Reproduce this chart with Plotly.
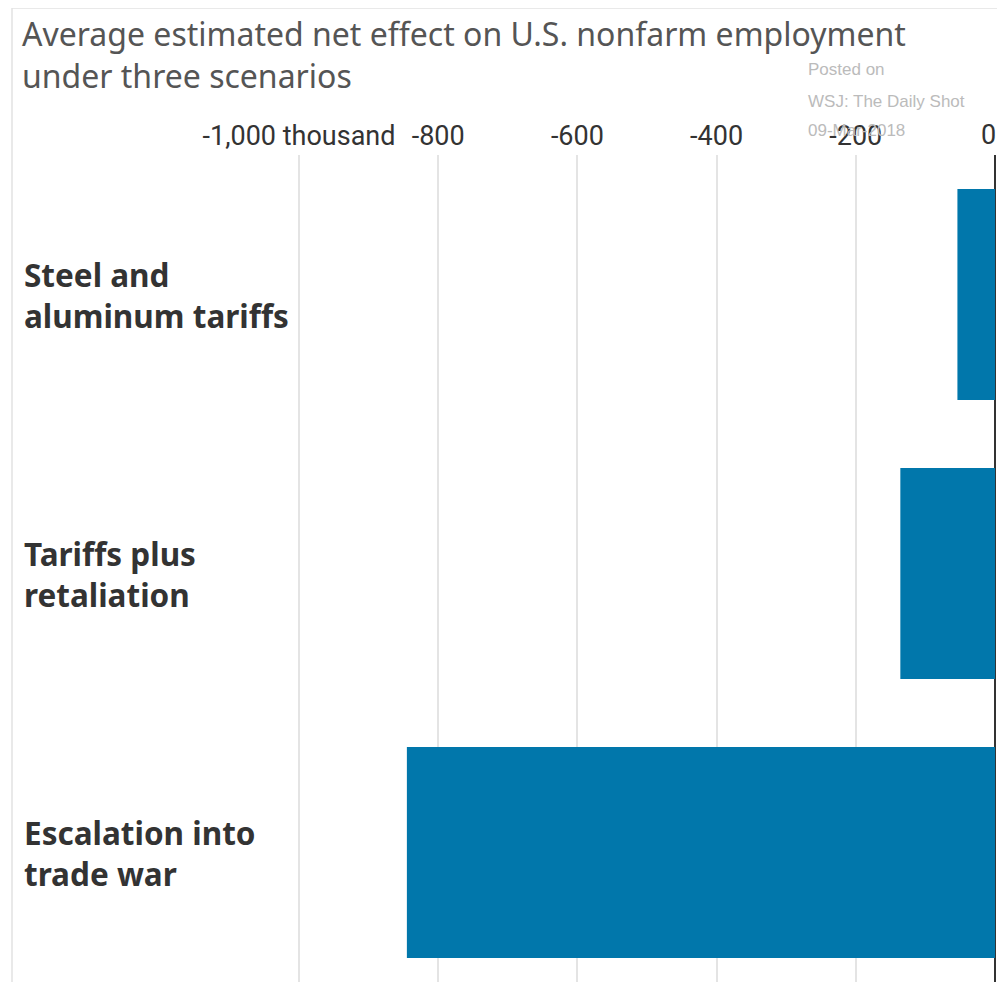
import plotly.graph_objects as go

categories = ["Steel and<br>aluminum tariffs", "Tariffs plus<br>retaliation", "Escalation into<br>trade war"]
values = [-54, -136, -845]
tick_vals = [-1000, -800, -600, -400, -200, 0]
tick_text = ["-1,000 thousand", "-800", "-600", "-400", "-200", "0"]

# page body has an 8px margin; work in page pixels and convert
OFF = 8
W, H = 1005 - 2 * OFF, 990 - 2 * OFF
L, R, T, B = 12 - OFF, 0, 155 - OFF, 0
pw = W - L - R
ph = H - T - B
cat_px = 279.0  # pixels per category in the reference

# x scale: -1000 at page x 299, 0 at page x 995
x_left_page, x_zero_page = 299, 995
scale = (x_zero_page - x_left_page) / 1000.0
plot_left_page = OFF + L
plot_right_page = OFF + L + pw
x_range = [-1000 - (x_left_page - plot_left_page) / scale,
           (plot_right_page - x_zero_page) / scale]

def px_x(p):
    return (p - OFF - L) / pw

def px_y(p):
    return (H - B - (p - OFF)) / ph

tick_font = dict(family="Roboto, sans-serif", size=27, color="#333")

fig = go.Figure()
fig.add_trace(go.Bar(
    y=list(range(len(categories))), x=values, orientation="h",
    marker=dict(color="#0177ab", line=dict(width=0)),
    width=0.756, hoverinfo="skip",
))

fig.update_layout(
    width=W, height=H,
    margin=dict(l=L, r=R, t=T, b=B, pad=0),
    paper_bgcolor="white", plot_bgcolor="white",
    showlegend=False,
    xaxis=dict(
        range=x_range, side="top",
        tickvals=tick_vals[:-1], ticktext=tick_text[:-1],
        tickfont=tick_font,
        showgrid=True, gridcolor="#e4e4e4", gridwidth=1.5,
        zeroline=True, zerolinecolor="#333", zerolinewidth=2,
        ticks="", ticklabelstandoff=4, showline=False, fixedrange=True,
    ),
    yaxis=dict(
        range=[-0.5 + ph / cat_px, -0.5],
        showticklabels=False, showgrid=False, zeroline=False, showline=False, fixedrange=True,
    ),
)

# the "0" tick label sits at the very edge of the page; draw it so it stays visible
fig.add_annotation(
    text=tick_text[-1], xref="x", yref="paper", x=tick_vals[-1], y=1,
    xanchor="right", yanchor="bottom", xshift=3, yshift=2, showarrow=False,
    font=tick_font,
)

for i, c in enumerate(categories):
    fig.add_annotation(
        text="<b>" + c + "</b>", xref="paper", yref="y", x=px_x(22), y=i,
        xanchor="left", yanchor="middle", align="left", showarrow=False,
        font=dict(family="Noto Sans, sans-serif", size=31.5, color="#333"),
    )

fig.add_annotation(
    text="Average estimated net effect on U.S. nonfarm employment<br>under three scenarios",
    xref="paper", yref="paper", x=px_x(20), y=px_y(10),
    xanchor="left", yanchor="top", align="left", showarrow=False,
    font=dict(family="Noto Sans, sans-serif", size=32, color="#555"),
)

for txt, yy in [("Posted on", 70), ("WSJ: The Daily Shot", 101), ("09-Mar-2018", 131)]:
    fig.add_annotation(
        text=txt, xref="paper", yref="paper", x=px_x(806), y=px_y(yy),
        xanchor="left", yanchor="middle", showarrow=False,
        font=dict(family="Liberation Sans, Arial, sans-serif", size=17, color="#bbbbbb"),
    )

fig.add_shape(type="line", xref="paper", yref="paper",
              x0=0, x1=0, y0=0, y1=px_y(8), line=dict(color="#e2e2e2", width=1.5))
fig.add_shape(type="line", xref="paper", yref="paper",
              x0=0, x1=1, y0=px_y(8), y1=px_y(8), line=dict(color="#e2e2e2", width=1.5))

fig.write_html("out.html")
